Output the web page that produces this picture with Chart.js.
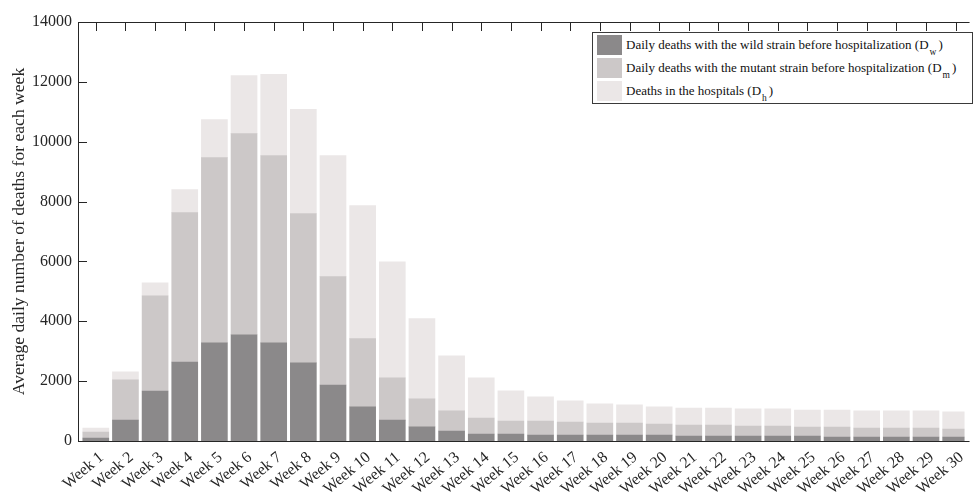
<!DOCTYPE html>
<html>
<head>
<meta charset="utf-8">
<script src="https://cdn.jsdelivr.net/npm/chart.js@4/dist/chart.umd.min.js"></script>
<style>
  html, body { margin: 0; padding: 0; background: #fff; }
  #wrap { position: relative; width: 975px; height: 496px; overflow: hidden; }
  #legend { position: absolute; left: 592px; top: 32px; width: 381px; height: 72px;
    border: 1px solid #3a3a3a; background: #fff; font-family: "Liberation Serif", serif;
    font-size: 13px; color: #111; box-sizing: border-box; }
  .row { position: absolute; left: 4px; height: 20px; display: flex; align-items: center; white-space: nowrap; }
  .sw { width: 25px; height: 20px; margin-right: 4px; flex: none; }
  sub { font-size: 9.5px; vertical-align: -6px; line-height: 0; margin: 0 2px 0 1px; }
</style>
</head>
<body>
<div id="wrap">
  <canvas id="c" width="975" height="496"></canvas>
  <div id="legend"></div>
</div>
<script>
// ---- data ----
const weekLabels = ["Week 1","Week 2","Week 3","Week 4","Week 5","Week 6","Week 7","Week 8","Week 9","Week 10",
  "Week 11","Week 12","Week 13","Week 14","Week 15","Week 16","Week 17","Week 18","Week 19","Week 20",
  "Week 21","Week 22","Week 23","Week 24","Week 25","Week 26","Week 27","Week 28","Week 29","Week 30"];
const wildDeaths = [100,700,1670,2640,3280,3550,3280,2610,1870,1140,700,470,335,234,234,201,201,201,201,201,
  167,167,167,167,167,134,134,134,134,134];
const mutantDeaths = [200,1340,3180,4990,6190,6720,6260,4990,3620,2280,1410,940,670,536,435,468,435,401,401,368,
  368,368,335,335,302,335,301,301,301,268];
const hospitalDeaths = [135,270,435,770,1270,1940,2710,3480,4050,4450,3880,2680,1840,1338,1004,804,703,636,603,569,
  569,569,569,569,568,568,569,569,569,569];
const yTicks = [0,2000,4000,6000,8000,10000,12000,14000];
const yTitle = "Average daily number of deaths for each week";
const seriesNames = [["Daily deaths with the wild strain before hospitalization (D","w",")"],
                     ["Daily deaths with the mutant strain before hospitalization (D","m",")"],
                     ["Deaths in the hospitals (D","h",")"]];
const seriesColors = ["#8b898a", "#ccc8c8", "#ebe7e7"];

const FONT = '"Liberation Serif", "Times New Roman", serif';
const AXIS = '#262626';

const toPts = arr => arr.map((v, i) => ({ x: i + 1, y: v }));

const boxPlugin = {
  id: 'box',
  beforeDatasetsDraw(chart) {
    const { ctx, chartArea: a, scales: { x, y } } = chart;
    ctx.save();
    ctx.strokeStyle = AXIS;
    ctx.lineWidth = 1;
    ctx.beginPath();
    yTicks.forEach(v => {
      const py = Math.round(y.getPixelForValue(v)) + 0.5;
      ctx.moveTo(a.left, py); ctx.lineTo(a.left + 9, py);
    });
    weekLabels.forEach((_, i) => {
      const px = Math.round(x.getPixelForValue(i + 1)) + 0.5;
      ctx.moveTo(px, a.top); ctx.lineTo(px, a.top + 9);
      ctx.moveTo(px, a.bottom); ctx.lineTo(px, a.bottom - 9);
    });
    const L = Math.round(a.left) + 0.5, T = Math.round(a.top) + 0.5, B = Math.round(a.bottom) + 0.5;
    ctx.moveTo(L, B); ctx.lineTo(L, T); ctx.lineTo(a.right + 5, T);
    ctx.moveTo(L, B); ctx.lineTo(a.right + 5, B);
    ctx.stroke();
    ctx.restore();
  },
  afterDraw(chart) {
    const { ctx, chartArea: a } = chart;
    ctx.save();
    ctx.translate(19, (a.top + a.bottom) / 2);
    ctx.rotate(-Math.PI / 2);
    ctx.font = '17.6px ' + FONT;
    ctx.fillStyle = AXIS;
    ctx.textAlign = 'center';
    ctx.textBaseline = 'middle';
    ctx.fillText(yTitle, 0, 0);
    ctx.restore();
  }
};

const chart = new Chart(document.getElementById('c'), {
  type: 'bar',
  data: {
    datasets: [
      { label: seriesNames[0].join(''), data: toPts(wildDeaths), backgroundColor: seriesColors[0] },
      { label: seriesNames[1].join(''), data: toPts(mutantDeaths), backgroundColor: seriesColors[1] },
      { label: seriesNames[2].join(''), data: toPts(hospitalDeaths), backgroundColor: seriesColors[2] }
    ]
  },
  options: {
    responsive: false,
    animation: false,
    devicePixelRatio: 1,
    layout: { padding: { top: 22, left: 0, right: 0, bottom: 0 } },
    datasets: { bar: { barThickness: 26, borderWidth: 0 } },
    plugins: { legend: { display: false }, tooltip: { enabled: false } },
    scales: {
      x: {
        type: 'linear', stacked: true, min: 0.4, max: 30.3, offset: false,
        grid: { display: false, drawTicks: false }, border: { display: false },
        afterBuildTicks: s => { s.ticks = weekLabels.map((_, i) => ({ value: i + 1 })); },
        afterFit: s => { s.height = 55; },
        ticks: {
          autoSkip: false, minRotation: 40, maxRotation: 40, padding: 7, labelOffset: 6,
          color: AXIS, font: { family: FONT, size: 16 },
          callback: v => weekLabels[v - 1]
        }
      },
      y: {
        stacked: true, min: 0, max: 14000,
        grid: { display: false, drawTicks: false }, border: { display: false },
        afterBuildTicks: s => { s.ticks = yTicks.map(v => ({ value: v })); },
        afterFit: s => { s.width = 78; },
        ticks: { padding: 6, color: AXIS, font: { family: FONT, size: 16 }, callback: v => String(v) }
      }
    }
  },
  plugins: [boxPlugin]
});

const leg = document.getElementById('legend');
const rowTops = [2, 25, 48];
chart.data.datasets.forEach((ds, i) => {
  const r = document.createElement('div');
  r.className = 'row';
  r.style.top = rowTops[i] + 'px';
  const sw = document.createElement('span');
  sw.className = 'sw';
  sw.style.background = ds.backgroundColor;
  r.appendChild(sw);
  const t = document.createElement('span');
  const n = seriesNames[i];
  t.appendChild(document.createTextNode(n[0]));
  const sb = document.createElement('sub'); sb.textContent = n[1]; t.appendChild(sb);
  t.appendChild(document.createTextNode(n[2]));
  r.appendChild(t);
  leg.appendChild(r);
});
</script>
</body>
</html>
